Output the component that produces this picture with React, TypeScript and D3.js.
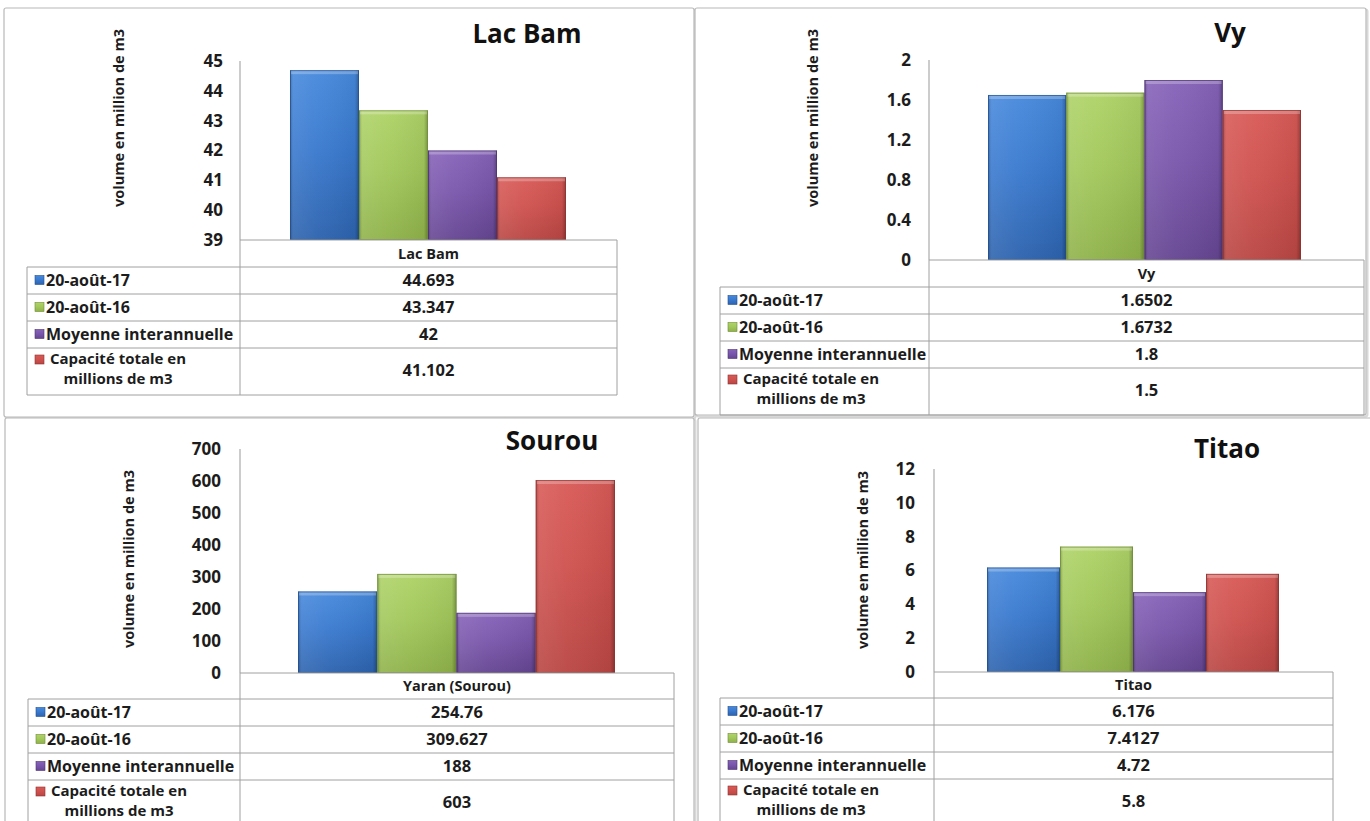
import React from "react";
import * as d3 from "d3";

const SERIES = ["20-août-17", "20-août-16", "Moyenne interannuelle", "Capacité totale en millions de m3"];
const SERIES_LINES = [["20-août-17"], ["20-août-16"], ["Moyenne interannuelle"], ["Capacité totale en", "millions de m3"]];
const SERIES_COLORS = [
  { top: "#4789dc", mid: "#3a7acf", bot: "#2d63ae", edge: "#24508f" },
  { top: "#afd368", mid: "#a3c85c", bot: "#8fb24a", edge: "#6f8d35" },
  { top: "#8663b9", mid: "#7a57ac", bot: "#654592", edge: "#4d3272" },
  { top: "#d85a57", mid: "#cf524f", bot: "#b94643", edge: "#8f3331" },
];

const LAC_BAM_VALUES = [44.693, 43.347, 42, 41.102];
const VY_VALUES = [1.6502, 1.6732, 1.8, 1.5];
const SOUROU_VALUES = [254.76, 309.627, 188, 603];
const TITAO_VALUES = [6.176, 7.4127, 4.72, 5.8];

const LAC_BAM_TICKS = [39, 40, 41, 42, 43, 44, 45];
const VY_TICKS = [0, 0.4, 0.8, 1.2, 1.6, 2];
const SOUROU_TICKS = [0, 100, 200, 300, 400, 500, 600, 700];
const TITAO_TICKS = [0, 2, 4, 6, 8, 10, 12];

const Y_TITLE = "volume en million de m3";
const FONT = "'Open Sans', Lato, sans-serif";
const INK = "#1c1c1c";

const PANELS = [
  {
    id: "p1", title: "Lac Bam", category: "Lac Bam", values: LAC_BAM_VALUES, ticks: LAC_BAM_TICKS,
    frame: [4, 8, 690, 409], titleX: 527, titleY: 43, yTitleX: 120, yTitleY: 118,
    axisX: 240, plotTop: 61, plotBottom: 240, tickRight: 223, barLeft: 290, barRight: 566,
    tableLeft: 27, tableRight: 617, rows: [240, 267, 294, 321, 348, 395],
  },
  {
    id: "p2", title: "Vy", category: "Vy", values: VY_VALUES, ticks: VY_TICKS,
    frame: [695, 8, 671, 407], titleX: 1230, titleY: 42, yTitleX: 814, yTitleY: 118,
    axisX: 929, plotTop: 60, plotBottom: 260, tickRight: 911, barLeft: 988, barRight: 1301,
    tableLeft: 720, tableRight: 1364, rows: [260, 287, 314, 341, 368, 415],
  },
  {
    id: "p3", title: "Sourou", category: "Yaran (Sourou)", values: SOUROU_VALUES, ticks: SOUROU_TICKS,
    frame: [5, 418, 689, 420], titleX: 552, titleY: 450, yTitleX: 130, yTitleY: 559,
    axisX: 240, plotTop: 449, plotBottom: 673, tickRight: 221, barLeft: 298, barRight: 615,
    tableLeft: 28, tableRight: 674, rows: [673, 699, 726, 753, 780, 830],
  },
  {
    id: "p4", title: "Titao", category: "Titao", values: TITAO_VALUES, ticks: TITAO_TICKS,
    frame: [698, 418, 680, 420], titleX: 1227, titleY: 458, yTitleX: 864, yTitleY: 560,
    axisX: 934, plotTop: 469, plotBottom: 672, tickRight: 915, barLeft: 987, barRight: 1279,
    tableLeft: 720, tableRight: 1333, rows: [672, 698, 725, 752, 779, 830],
  },
];

function Panel({ cfg }: { cfg: any }) {
  const ticks: number[] = cfg.ticks;
  const y = d3.scaleLinear().domain([ticks[0], ticks[ticks.length - 1]]).range([cfg.plotBottom, cfg.plotTop]);
  const x = d3.scaleBand<string>().domain(SERIES).range([cfg.barLeft, cfg.barRight]).padding(0);
  const [fx, fy, fw, fh] = cfg.frame;
  const rows: number[] = cfg.rows;
  const gridColor = "#a0a0a0";
  const base = ticks[0];
  const fmt = (v: number) => String(v);
  return (
    <g>
      <rect x={fx + 1.5} y={fy + 1.5} width={fw} height={fh} fill="none" stroke="#d8d8d8" strokeWidth={2} rx={2} />
      <rect x={fx} y={fy} width={fw} height={fh} fill="#fff" stroke="#b8b8b8" strokeWidth={1.2} rx={2} />
      <text x={cfg.titleX} y={cfg.titleY} textAnchor="middle" fontFamily={FONT} fontWeight={700} fontSize={26} fill="#111">{cfg.title}</text>
      <text transform={`translate(${cfg.yTitleX},${cfg.yTitleY}) rotate(-90)`} textAnchor="middle" dominantBaseline="middle" fontFamily={FONT} fontWeight={700} fontSize={14.5} fill={INK}>{Y_TITLE}</text>
      {ticks.map((t) => (
        <text key={t} x={cfg.tickRight} y={y(t)} dy="0.35em" textAnchor="end" fontFamily={FONT} fontWeight={700} fontSize={17} fill={INK}>{fmt(t)}</text>
      ))}
      <line x1={cfg.axisX} x2={cfg.axisX} y1={cfg.plotTop} y2={cfg.plotBottom} stroke="#999" strokeWidth={1} />
      {SERIES.map((s, i) => {
        const v = cfg.values[i];
        const x0 = x(s)!;
        const w = x.bandwidth();
        const yt = y(v);
        const h = y(base) - yt;
        return (
          <g key={s}>
            <rect x={x0} y={yt} width={w} height={h} fill={`url(#${cfg.id}-g${i})`} />
            <rect x={x0} y={yt} width={w} height={h} fill={`url(#edge-h)`} />
            <rect x={x0 + 1} y={yt} width={w - 2} height={4} fill="#fff" opacity={0.25} />
            <rect x={x0 + 0.5} y={yt + 0.5} width={w - 1} height={h - 1} fill="none" stroke={SERIES_COLORS[i].edge} strokeWidth={1} opacity={0.7} />
          </g>
        );
      })}
      <g stroke={gridColor} strokeWidth={1} fill="none">
        <line x1={cfg.axisX} x2={cfg.tableRight} y1={rows[0]} y2={rows[0]} />
        {rows.slice(1).map((r) => (
          <line key={r} x1={cfg.tableLeft} x2={cfg.tableRight} y1={r} y2={r} />
        ))}
        <line x1={cfg.axisX} x2={cfg.axisX} y1={rows[0]} y2={rows[rows.length - 1]} />
        <line x1={cfg.tableRight} x2={cfg.tableRight} y1={rows[0]} y2={rows[rows.length - 1]} />
        <line x1={cfg.tableLeft} x2={cfg.tableLeft} y1={rows[1]} y2={rows[rows.length - 1]} />
      </g>
      <text x={(cfg.axisX + cfg.tableRight) / 2} y={(rows[0] + rows[1]) / 2} dy="0.35em" textAnchor="middle" fontFamily={FONT} fontWeight={700} fontSize={14.5} fill={INK}>{cfg.category}</text>
      {SERIES.map((s, i) => {
        const top = rows[i + 1];
        const bot = i === 3 ? top + 45 : rows[i + 2];
        const mid = (top + bot) / 2;
        const lines = SERIES_LINES[i];
        const tx = cfg.tableLeft + 19;
        return (
          <g key={s}>
            <rect x={cfg.tableLeft + 8} y={lines.length > 1 ? top + 7 : mid - 5} width={9} height={9} fill={`url(#${cfg.id}-g${i})`} stroke={SERIES_COLORS[i].edge} strokeWidth={0.6} />
            {lines.length === 1 ? (
              <text x={tx} y={mid} dy="0.35em" fontFamily={FONT} fontWeight={700} fontSize={16} fill={INK}>{lines[0]}</text>
            ) : (
              <g fontFamily={FONT} fontWeight={700} fontSize={15} fill={INK} textAnchor="middle">
                <text x={tx + 72} y={top + 16}>{lines[0]}</text>
                <text x={tx + 72} y={top + 36}>{lines[1]}</text>
              </g>
            )}
            <text x={(cfg.axisX + cfg.tableRight) / 2} y={mid} dy="0.35em" textAnchor="middle" fontFamily={FONT} fontWeight={700} fontSize={16.5} fill={INK}>{fmt(cfg.values[i])}</text>
          </g>
        );
      })}
    </g>
  );
}

export default function App() {
  return (
    <svg width={1370} height={821} style={{ position: "absolute", left: 0, top: 0, background: "#fff" }}>
      <defs>
        {PANELS.map((p) =>
          SERIES_COLORS.map((c, i) => (
            <linearGradient key={`${p.id}-${i}`} id={`${p.id}-g${i}`} x1="0" y1="0" x2="0" y2="1">
              <stop offset="0%" stopColor={c.top} />
              <stop offset="45%" stopColor={c.mid} />
              <stop offset="100%" stopColor={c.bot} />
            </linearGradient>
          ))
        )}
        <linearGradient id="edge-h" x1="0" y1="0" x2="1" y2="0">
          <stop offset="0%" stopColor="#000" stopOpacity={0.25} />
          <stop offset="5%" stopColor="#fff" stopOpacity={0.1} />
          <stop offset="40%" stopColor="#fff" stopOpacity={0.04} />
          <stop offset="94%" stopColor="#000" stopOpacity={0.05} />
          <stop offset="100%" stopColor="#000" stopOpacity={0.3} />
        </linearGradient>
      </defs>
      <rect x={0} y={0} width={1370} height={821} fill="#fff" />
      {PANELS.map((p) => (
        <Panel key={p.id} cfg={p} />
      ))}
    </svg>
  );
}
